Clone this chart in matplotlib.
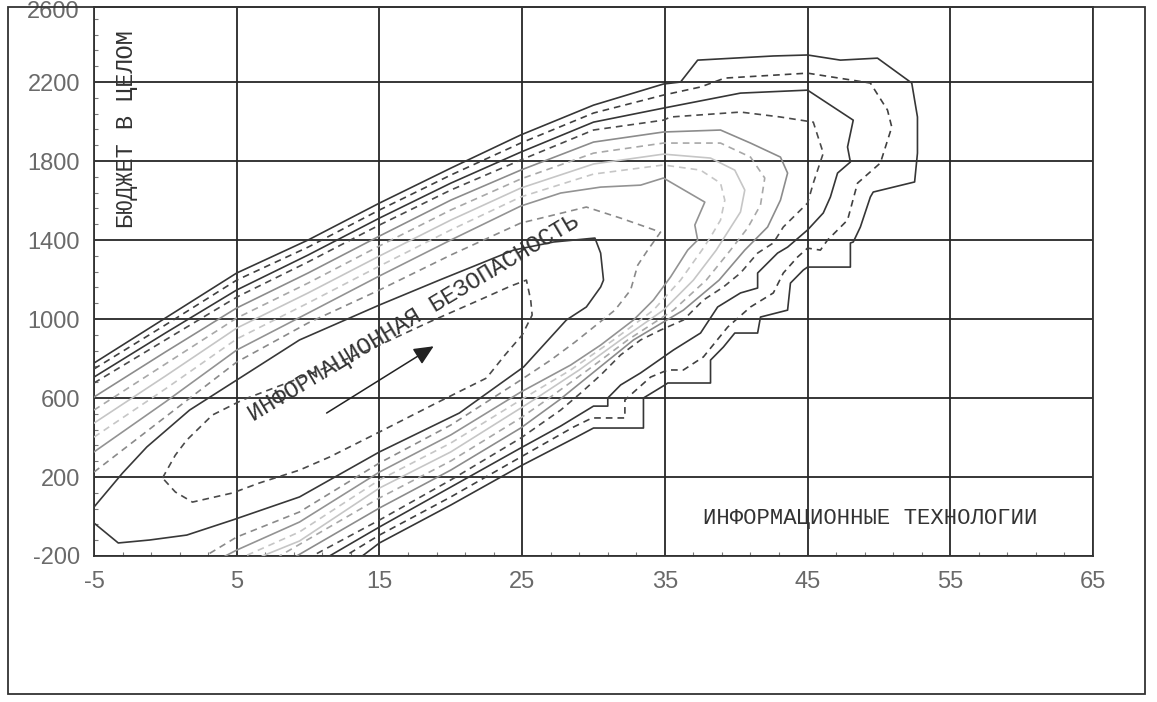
import matplotlib
matplotlib.use('Agg')
import matplotlib.pyplot as plt
from matplotlib.patches import Rectangle
from matplotlib.ticker import FixedLocator
import numpy as np

plt.rcParams['axes.unicode_minus'] = False

# Axis ticks
x_ticks = [-5, 5, 15, 25, 35, 45, 55, 65]
y_ticks = [-200, 200, 600, 1000, 1400, 1800, 2200]

# Contour lines, outermost (c1) to innermost (c12)
c1_x = [-5, 0, 5, 10, 15, 20, 24.9, 30, 34.9, 36.1, 37.3, 42.6, 45, 47.3, 49.9, 52.3, 52.7, 52.7, 52.5,
        49.6, 49.4, 48.7, 48.2, 48, 48, 45, 44.7, 43.8, 43.6, 41.7, 41.5, 39.9, 39.1, 38.2, 38.2, 35.2,
        35, 33.5, 33.5, 30, 28.8, 24.9, 20, 15, 13.8]
c1_y = [777, 1005, 1233, 1400, 1587, 1764, 1932, 2083, 2190, 2200, 2311, 2332, 2337, 2311, 2321, 2195,
        2023, 1840, 1694, 1643, 1618, 1466, 1390, 1385, 1263, 1263, 1248, 1182, 1045, 1010, 929, 929,
        858, 792, 676, 676, 666, 600, 448, 448, 402, 256, 58, -134, -200]

c2_x = [-5, 0, 5, 10, 15, 20, 24.9, 30, 34.9, 37.5, 39.2, 45, 49.4, 50.6, 50.9, 50.1, 48.5, 47.8, 46.4,
        45.9, 45, 44.3, 43.3, 42.6, 41, 39.4, 37.7, 36.3, 35.2, 34, 32.2, 32.2, 29.9, 28.6, 24.9, 20,
        15, 12.6]
c2_y = [747, 970, 1197, 1364, 1552, 1729, 1891, 2043, 2134, 2175, 2220, 2245, 2195, 2058, 1972, 1790,
        1688, 1501, 1400, 1349, 1359, 1314, 1233, 1132, 1061, 959, 808, 742, 742, 706, 590, 499, 499,
        453, 301, 99, -94, -200]

c3_x = [-5, 0, 5, 10, 15, 20, 24.9, 30, 34.9, 40.3, 45, 48.2, 47.8, 48, 47.1, 46.6, 46.1, 45, 43.6,
        42.9, 41.5, 41.5, 40.3, 38.7, 37.5, 35.6, 33.3, 31.9, 31, 31, 30, 27.7, 24.9, 20, 15, 11.5]
c3_y = [706, 929, 1147, 1324, 1511, 1688, 1845, 1997, 2068, 2144, 2159, 2007, 1871, 1795, 1739, 1618,
        1537, 1451, 1364, 1334, 1233, 1157, 1132, 1061, 929, 843, 727, 666, 600, 559, 559, 458, 347,
        149, -53, -200]

c4_x = [-5, 0, 5, 10, 15, 20, 24.9, 30, 34.9, 35.4, 40.3, 43.1, 45.4, 46.1, 45.4, 45, 43.3, 42.6, 41.5,
        40.3, 39.1, 37.7, 36.3, 34.7, 33.3, 31.9, 30.5, 29.1, 27.7, 24.9, 20, 15, 10.3]
c4_y = [676, 894, 1111, 1289, 1476, 1653, 1805, 1957, 2007, 2023, 2048, 2023, 1997, 1840, 1688, 1587,
        1466, 1385, 1334, 1233, 1162, 1096, 995, 944, 894, 818, 716, 625, 539, 397, 185, -18, -200]

c5_x = [-5, 0, 5, 10, 15, 20, 24.9, 30, 34.9, 38.9, 41, 43.1, 43.6, 43.1, 42.2, 40.6, 38.8, 36.3, 32.8,
        30.2, 27.6, 24.9, 20, 15, 9.2]
c5_y = [605, 833, 1056, 1233, 1420, 1602, 1754, 1896, 1947, 1957, 1891, 1820, 1739, 1602, 1466, 1349,
        1197, 1045, 894, 742, 590, 448, 235, 43, -200]

c6_x = [-5, 0, 5, 10, 15, 20, 24.9, 30, 34.9, 38.9, 41, 42, 41.7, 40.8, 39.6, 37.9, 35.6, 32.4, 29.6,
        26.7, 24.9, 20, 15, 8]
c6_y = [539, 772, 1005, 1182, 1370, 1552, 1709, 1840, 1891, 1891, 1820, 1714, 1577, 1461, 1349, 1197,
        1045, 894, 742, 590, 499, 281, 94, -200]

c7_x = [-5, 0, 5, 10, 15, 20, 24.9, 30, 34.9, 38.2, 39.9, 40.6, 40.3, 39.4, 38.6, 37, 34.9, 31.9, 29,
        25.8, 24.9, 20, 15, 9.4, 6.8]
c7_y = [473, 711, 954, 1132, 1319, 1501, 1663, 1785, 1835, 1815, 1754, 1653, 1542, 1440, 1349, 1197,
        1045, 894, 742, 590, 549, 327, 144, -124, -200]

c8_x = [-5, 0, 5, 10, 15, 20, 24.9, 30, 34.9, 37.5, 38.9, 39.2, 38.9, 38.2, 37.6, 36.1, 34.2, 31.4,
        28.4, 24.9, 20, 15, 9.4, 5.6]
c8_y = [402, 646, 899, 1081, 1268, 1451, 1618, 1734, 1780, 1754, 1688, 1602, 1501, 1415, 1349, 1197,
        1045, 894, 742, 590, 372, 185, -78, -200]

c9_x = [-5, 0, 5, 10, 15, 20, 24.9, 27.7, 30.5, 33.3, 34.9, 37.8, 37.1, 37.3, 36.6, 35.4, 34.2, 32.8,
        30.5, 28.4, 24.9, 20, 15, 9.4, 5, 4.2]
c9_y = [327, 580, 843, 1030, 1218, 1400, 1572, 1638, 1668, 1678, 1714, 1592, 1476, 1400, 1349, 1213,
        1096, 995, 868, 767, 630, 413, 225, -28, -170, -200]

c10_x = [-5, 0, 5, 10, 15, 20, 24.9, 29.5, 31.9, 34.7, 33.8, 33.1, 32.6, 31.5, 30.2, 28.7, 27, 24.9,
         20, 15, 9.4, 5, 2.8]
c10_y = [225, 504, 782, 980, 1147, 1324, 1486, 1567, 1511, 1440, 1349, 1273, 1147, 1045, 970, 883, 792,
         691, 463, 271, 23, -104, -200]

c11_x = [-5, -3.0, -1.3, 1.7, 5.0, 9.4, 15.0, 19.2, 24.4, 27.2, 30.1, 30.5, 30.7, 30.5, 29.5, 28.1,
         25.1, 20.6, 15.0, 9.4, 4.7, 1.5, -1.1, -3.3, -5]
c11_y = [48, 220, 352, 539, 691, 894, 1071, 1197, 1349, 1390, 1410, 1334, 1197, 1162, 1061, 995, 757,
         524, 327, 99, -18, -94, -119, -134, -33]

c12_x = [-0.2, 0.7, 1.5, 3.3, 5.4, 8.7, 11.7, 15.0, 18.5, 22.0, 24.2, 25.3, 25.6, 25.7, 25.0, 23.8,
         22.5, 19.0, 15.0, 11.5, 9.4, 6.6, 4.7, 1.9, 0.7, -0.2]
c12_y = [195, 311, 387, 514, 590, 681, 767, 868, 985, 1096, 1167, 1197, 1096, 1020, 919, 818, 701, 575,
         428, 301, 235, 170, 119, 73, 124, 195]

# arrow inside the inner ring
arrow_start = (11.3, 524)
arrow_end = (18.8, 862)

contours = [
    (c1_x, c1_y, '#363636', '-'),
    (c2_x, c2_y, '#404040', '--'),
    (c3_x, c3_y, '#363636', '-'),
    (c4_x, c4_y, '#4a4a4a', '--'),
    (c5_x, c5_y, '#8c8c8c', '-'),
    (c6_x, c6_y, '#a8a8a8', '--'),
    (c7_x, c7_y, '#c6c6c6', '-'),
    (c8_x, c8_y, '#c6c6c6', '--'),
    (c9_x, c9_y, '#939393', '-'),
    (c10_x, c10_y, '#8a8a8a', '--'),
    (c11_x, c11_y, '#383838', '-'),
    (c12_x, c12_y, '#4a4a4a', '--'),
]

W, H = 1157, 702
fig = plt.figure(figsize=(W / 100, H / 100), dpi=100)
fig.patch.set_facecolor('white')

# outer frame of the scanned figure
fig.patches.append(Rectangle((8 / W, 1 - 694 / H), 1137 / W, 687 / H, transform=fig.transFigure,
                             fill=False, edgecolor='#333333', linewidth=1.3))

ax = fig.add_axes([94 / W, 1 - 556 / H, 999 / W, 549 / H])
ax.set_xlim(-5, 65)
ax.set_ylim(-200, 2580)

for xs, ys, col, ls in contours:
    line, = ax.plot(xs, ys, color=col, linestyle=ls, linewidth=1.2, zorder=3)
    if ls == '--':
        line.set_dashes((4, 3))

ax.annotate('', xy=arrow_end, xytext=arrow_start,
            arrowprops=dict(arrowstyle='-|>,head_length=1.2,head_width=0.55', color='#222222',
                            lw=1.1, shrinkA=0, shrinkB=0), zorder=5)

mono = 'Liberation Mono'
ax.text(17.4, 1005, 'ИНФОРМАЦИОННАЯ БЕЗОПАСНОСТЬ', rotation=31, rotation_mode='anchor',
        ha='center', va='center', family=mono, fontsize=17, color='#333333', zorder=6)
ax.text(-2.7, 1962, 'БЮДЖЕТ В ЦЕЛОМ', rotation=90, ha='center', va='center',
        family=mono, fontsize=17, color='#333333', zorder=6)
ax.text(49.4, -8, 'ИНФОРМАЦИОННЫЕ ТЕХНОЛОГИИ', ha='center', va='center',
        family=mono, fontsize=16, color='#333333', zorder=6)

# axes and grid
ax.set_xticks(x_ticks)
ax.set_yticks(y_ticks)
ax.xaxis.set_minor_locator(FixedLocator(np.arange(-5, 66, 2)))
ax.yaxis.set_minor_locator(FixedLocator(np.arange(-200, 2580, 80)))
ax.tick_params(which='major', length=0, labelsize=17, labelcolor='#6a6a6a')
ax.tick_params(axis='y', which='major', pad=10)
ax.tick_params(axis='x', which='major', pad=11)
ax.tick_params(which='minor', direction='in', length=3, color='#777777', width=0.8)
for lab in ax.get_xticklabels() + ax.get_yticklabels():
    lab.set_family('Liberation Sans')
# the top label sits right at the upper edge of the figure
ax.annotate('2600', xy=(0, 1), xycoords='axes fraction', xytext=(-14, 6),
            textcoords='offset pixels', ha='right', va='top', fontsize=17,
            color='#6a6a6a', family='Liberation Sans', annotation_clip=False)

ax.grid(True, which='major', color='#262626', linewidth=1.3)
ax.set_axisbelow(True)
for sp in ax.spines.values():
    sp.set_color('#333333')
    sp.set_linewidth(1.3)

fig.savefig('out.png', dpi=100, facecolor='white')
